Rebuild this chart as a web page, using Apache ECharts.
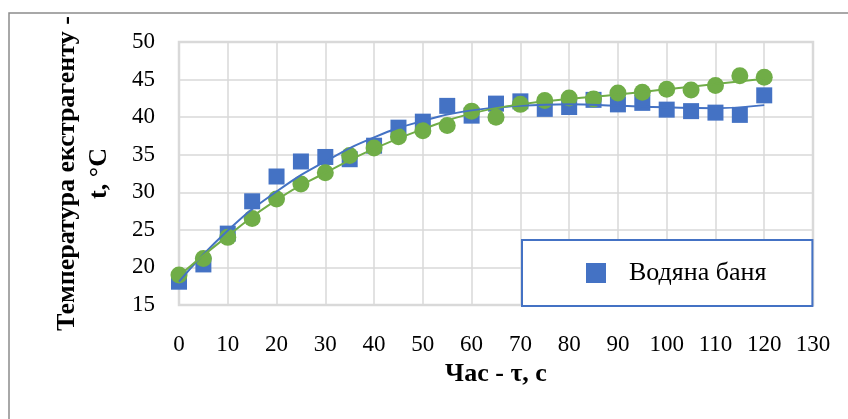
<!DOCTYPE html>
<html>
<head>
<meta charset="utf-8">
<script src="https://cdn.jsdelivr.net/npm/echarts@6/dist/echarts.min.js"></script>
<style>html,body{margin:0;padding:0;background:#fff}#c{width:848px;height:419px}</style>
</head>
<body>
<div id="c"></div>
<script>
// time, s
const timeS = [0,5,10,15,20,25,30,35,40,45,50,55,60,65,70,75,80,85,90,95,100,105,110,115,120];
// Водяна баня (blue squares)
const waterBath = [18.1,20.4,24.5,28.8,32.1,34.1,34.7,34.4,36.2,38.6,39.4,41.5,40.2,41.8,42.1,41.1,41.35,42.3,41.7,41.9,41.0,40.8,40.6,40.3,42.9];
// second series (green circles)
const series2 = [19.0,21.2,24.0,26.5,29.1,31.1,32.6,34.9,35.9,37.4,38.2,38.9,40.8,40.0,41.7,42.2,42.55,42.4,43.2,43.3,43.7,43.6,44.2,45.5,45.3];
// trendlines
const trendX = [0,10,20,30,40,50,60,70,80,90,100,110,120];
const trendBlue = [18.1,24.9,30.1,34.1,37.3,39.5,40.9,41.5,41.7,41.5,41.3,41.2,41.6];
const trendGreen = [18.9,24.2,29.0,32.6,35.8,38.4,40.5,41.7,42.4,43.0,43.7,44.4,45.1];
const xTicks = {min:0,max:130,step:10};
const yTicks = {min:15,max:50,step:5};

const pairs = (xs, ys) => xs.map((x,i)=>[x,ys[i]]);
const serif = '"Liberation Serif","Times New Roman",serif';
const chart = echarts.init(document.getElementById('c'));
chart.setOption({
  animation:false,
  backgroundColor:'#fff',
  graphic:[{type:'rect',shape:{x:9,y:13,width:860,height:430},style:{fill:'none',stroke:'#8c8c8c',lineWidth:1.5},silent:true}],
  grid:{left:179,right:35,top:42,bottom:114,show:true,borderColor:'#d9d9d9',borderWidth:2.5},
  legend:{
    data:['Водяна баня'],
    left:522, top:240,
    orient:'horizontal',
    padding:[20,46,20,64],
    backgroundColor:'#fff',
    borderColor:'#4472C4', borderWidth:2,
    itemWidth:20,itemHeight:20,
    icon:'rect',
    textStyle:{fontFamily:serif,fontSize:26,color:'#000',padding:[0,0,0,18]}
  },
  xAxis:{
    type:'value',min:xTicks.min,max:xTicks.max,interval:xTicks.step,
    name:'Час - τ, с',nameLocation:'middle',nameGap:51,
    nameTextStyle:{fontFamily:serif,fontSize:26,fontWeight:'bold',color:'#000'},
    axisLine:{show:false},axisTick:{show:false},
    axisLabel:{fontFamily:serif,fontSize:23,color:'#000',margin:28},
    splitLine:{show:true,lineStyle:{color:'#d9d9d9',width:1.5}}
  },
  yAxis:{
    type:'value',min:yTicks.min,max:yTicks.max,interval:yTicks.step,
    name:'Температура екстрагенту -\nt, °C',nameLocation:'middle',nameRotate:90,nameGap:64,
    nameTextStyle:{fontFamily:serif,fontSize:26,fontWeight:'bold',color:'#000',lineHeight:32},
    axisLine:{show:false},axisTick:{show:false},
    axisLabel:{fontFamily:serif,fontSize:23,color:'#000',margin:24},
    splitLine:{show:true,lineStyle:{color:'#d9d9d9',width:1.5}}
  },
  series:[
    {name:'Водяна баня',type:'scatter',symbol:'rect',symbolSize:16,itemStyle:{color:'#4472C4',opacity:1},data:pairs(timeS,waterBath),z:2},
    {name:'Серія 2',type:'scatter',symbol:'circle',symbolSize:17,itemStyle:{color:'#70AD47',opacity:1},data:pairs(timeS,series2),z:3},
    {name:'trendBlue',type:'line',smooth:true,showSymbol:false,symbol:'none',lineStyle:{color:'#4472C4',width:2},data:pairs(trendX,trendBlue),z:4},
    {name:'trendGreen',type:'line',smooth:true,showSymbol:false,symbol:'none',lineStyle:{color:'#70AD47',width:2},data:pairs(trendX,trendGreen),z:5}
  ]
});
</script>
</body>
</html>
